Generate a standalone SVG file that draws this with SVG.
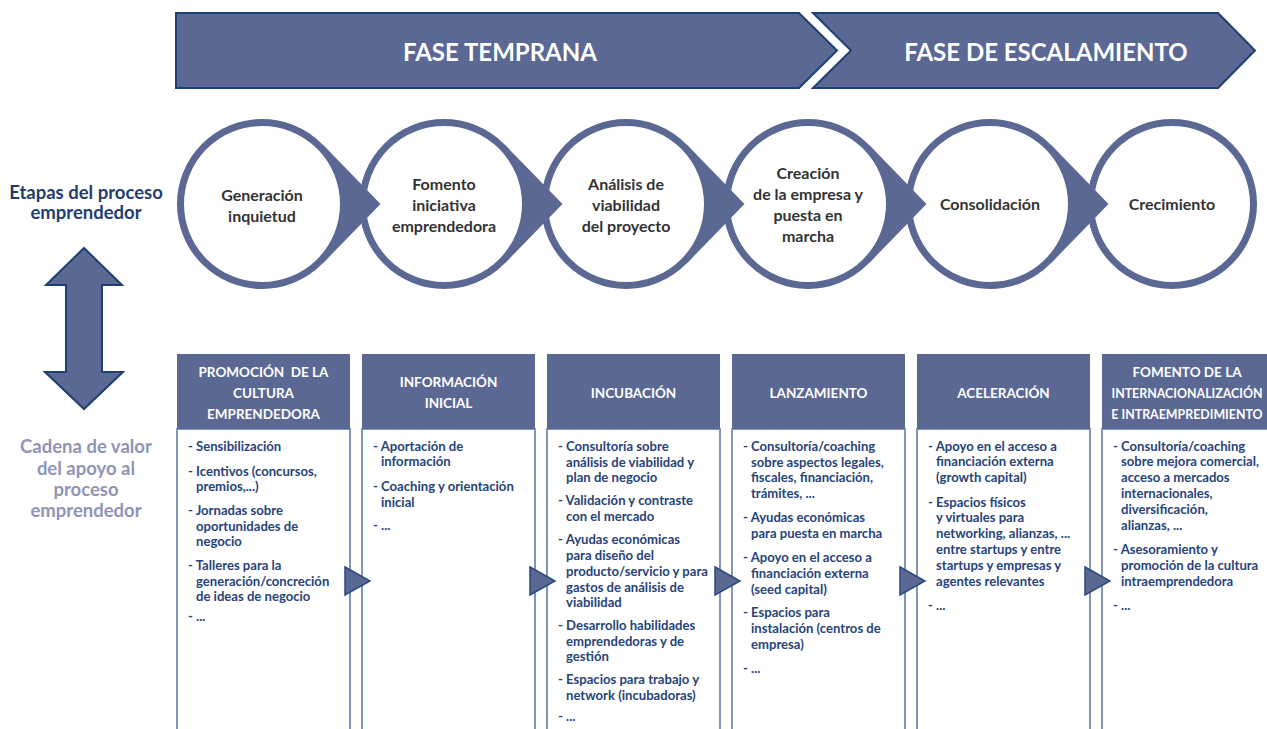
<svg xmlns="http://www.w3.org/2000/svg" width="1267" height="729" viewBox="0 0 1267 729">
<style>
text{font-family:Lato,"Liberation Sans",sans-serif;font-weight:bold}
.ban{fill:#5b6893;stroke:#1f3f73;stroke-width:2}
.bant{fill:#fff;font-size:24px;text-anchor:middle}
.ring{fill:#fff;stroke:#5b6893;stroke-width:7}
.ct{fill:#333;font-size:16px;text-anchor:middle}
.tip{fill:#5b6893}
.hdr{fill:#5b6893}
.ht{fill:#fff;font-size:13.5px;text-anchor:middle}
.hts{font-size:12.4px}
.body{fill:#fff;stroke:#8495ba;stroke-width:2}
.bt{fill:#27437a;font-size:13.1px}
.tri{fill:#5b6893;stroke:#2b4a7c;stroke-width:1.5;stroke-linejoin:miter}
.lab1{fill:#1f3d72;font-size:18.5px;text-anchor:middle}
.lab2{fill:#8f94b6;font-size:18.5px;text-anchor:middle}
.dbl{fill:#5b6893;stroke:#1f3f73;stroke-width:2}
</style>

<g id="phase-temprana">
<path class="ban" d="M176,13 L799,13 L837,50.5 L799,88 L176,88 Z"/>
<text class="bant" x="500" y="61">FASE TEMPRANA</text>
</g>
<g id="phase-escalamiento">
<path class="ban" d="M813,13 L1218,13 L1255,50.5 L1218,88 L813,88 L851,50.5 Z"/>
<text class="bant" x="1046" y="61">FASE DE ESCALAMIENTO</text>
</g>

<g id="label-etapas">
<text class="lab1" x="86" y="199">Etapas del proceso</text>
<text class="lab1" x="86" y="219">emprendedor</text>
</g>
<g id="label-cadena">
<text class="lab2" x="86" y="453">Cadena de valor</text>
<text class="lab2" x="86" y="475">del apoyo al</text>
<text class="lab2" x="86" y="496">proceso</text>
<text class="lab2" x="86" y="517">emprendedor</text>
</g>

<g id="stage-1">
<circle class="ring" cx="262" cy="204" r="81.5"/>
<text class="ct" x="262" y="201">Generación</text>
<text class="ct" x="262" y="222">inquietud</text>
</g>
<g id="stage-2">
<circle class="ring" cx="444" cy="204" r="81.5"/>
<text class="ct" x="444" y="190">Fomento</text>
<text class="ct" x="444" y="211">iniciativa</text>
<text class="ct" x="444" y="232">emprendedora</text>
</g>
<g id="stage-3">
<circle class="ring" cx="626" cy="204" r="81.5"/>
<text class="ct" x="626" y="190">Análisis de</text>
<text class="ct" x="626" y="211">viabilidad</text>
<text class="ct" x="626" y="232">del proyecto</text>
</g>
<g id="stage-4">
<circle class="ring" cx="808" cy="204" r="81.5"/>
<text class="ct" x="808" y="179">Creación</text>
<text class="ct" x="808" y="200">de la empresa y</text>
<text class="ct" x="808" y="221">puesta en</text>
<text class="ct" x="808" y="242">marcha</text>
</g>
<g id="stage-5">
<circle class="ring" cx="990" cy="204" r="81.5"/>
<text class="ct" x="990" y="210">Consolidación</text>
</g>
<g id="stage-6">
<circle class="ring" cx="1172" cy="204" r="81.5"/>
<text class="ct" x="1172" y="210">Crecimiento</text>
</g>

<g id="col-1">
<rect class="body" x="177" y="429" width="173" height="310"/>
<rect class="hdr" x="177" y="354" width="173" height="75"/>
<text class="ht" x="263.5" y="377" xml:space="preserve" style="white-space:pre">PROMOCIÓN  DE LA</text>
<text class="ht" x="263.5" y="398">CULTURA</text>
<text class="ht" x="263.5" y="419">EMPRENDEDORA</text>
<text class="bt" x="188" y="451">- Sensibilización</text>
<text class="bt" x="188" y="476">- Icentivos (concursos,</text>
<text class="bt" x="196" y="491">premios,...)</text>
<text class="bt" x="188" y="515">- Jornadas sobre</text>
<text class="bt" x="196" y="531">oportunidades de</text>
<text class="bt" x="196" y="546">negocio</text>
<text class="bt" x="188" y="570">- Talleres para la</text>
<text class="bt" x="196" y="586">generación/concreción</text>
<text class="bt" x="196" y="601">de ideas de negocio</text>
<text class="bt" x="188" y="621">- ...</text>
</g>
<g id="col-2">
<rect class="body" x="362" y="429" width="173" height="310"/>
<rect class="hdr" x="362" y="354" width="173" height="75"/>
<text class="ht" x="448.5" y="387">INFORMACIÓN</text>
<text class="ht" x="448.5" y="408">INICIAL</text>
<text class="bt" x="373" y="451">- Aportación de</text>
<text class="bt" x="381" y="466">información</text>
<text class="bt" x="373" y="491">- Coaching y orientación</text>
<text class="bt" x="381" y="507">inicial</text>
<text class="bt" x="373" y="530">- ...</text>
</g>
<g id="col-3">
<rect class="body" x="547" y="429" width="173" height="310"/>
<rect class="hdr" x="547" y="354" width="173" height="75"/>
<text class="ht" x="633.5" y="398">INCUBACIÓN</text>
<text class="bt" x="558" y="451">- Consultoría sobre</text>
<text class="bt" x="566" y="467">análisis de viabilidad y</text>
<text class="bt" x="566" y="482">plan de negocio</text>
<text class="bt" x="558" y="505">- Validación y contraste</text>
<text class="bt" x="566" y="521">con el mercado</text>
<text class="bt" x="558" y="544">- Ayudas económicas</text>
<text class="bt" x="566" y="560">para diseño del</text>
<text class="bt" x="566" y="576">producto/servicio y para</text>
<text class="bt" x="566" y="592">gastos de análisis de</text>
<text class="bt" x="566" y="607">viabilidad</text>
<text class="bt" x="558" y="630">- Desarrollo habilidades</text>
<text class="bt" x="566" y="646">emprendedoras y de</text>
<text class="bt" x="566" y="661">gestión</text>
<text class="bt" x="558" y="684">- Espacios para trabajo y</text>
<text class="bt" x="566" y="700">network (incubadoras)</text>
<text class="bt" x="558" y="721">- ...</text>
</g>
<g id="col-4">
<rect class="body" x="732" y="429" width="173" height="310"/>
<rect class="hdr" x="732" y="354" width="173" height="75"/>
<text class="ht" x="818.5" y="398">LANZAMIENTO</text>
<text class="bt" x="743" y="451">- Consultoría/coaching</text>
<text class="bt" x="751" y="467">sobre aspectos legales,</text>
<text class="bt" x="751" y="482">fiscales, financiación,</text>
<text class="bt" x="751" y="498">trámites, ...</text>
<text class="bt" x="743" y="522">- Ayudas económicas</text>
<text class="bt" x="751" y="538">para puesta en marcha</text>
<text class="bt" x="743" y="562">- Apoyo en el acceso a</text>
<text class="bt" x="751" y="578">financiación externa</text>
<text class="bt" x="751" y="594">(seed capital)</text>
<text class="bt" x="743" y="617">- Espacios para</text>
<text class="bt" x="751" y="633">instalación (centros de</text>
<text class="bt" x="751" y="649">empresa)</text>
<text class="bt" x="743" y="673">- ...</text>
</g>
<g id="col-5">
<rect class="body" x="917" y="429" width="173" height="310"/>
<rect class="hdr" x="917" y="354" width="173" height="75"/>
<text class="ht" x="1003.5" y="398">ACELERACIÓN</text>
<text class="bt" x="928" y="451">- Apoyo en el acceso a</text>
<text class="bt" x="936" y="466">financiación externa</text>
<text class="bt" x="936" y="482">(growth capital)</text>
<text class="bt" x="928" y="507">- Espacios físicos</text>
<text class="bt" x="936" y="522">y virtuales para</text>
<text class="bt" x="936" y="538">networking, alianzas, ...</text>
<text class="bt" x="936" y="554">entre startups y entre</text>
<text class="bt" x="936" y="570">startups y empresas y</text>
<text class="bt" x="936" y="586">agentes relevantes</text>
<text class="bt" x="928" y="610">- ...</text>
</g>
<g id="col-6">
<rect class="body" x="1102" y="429" width="173" height="310"/>
<rect class="hdr" x="1102" y="354" width="173" height="75"/>
<text class="ht" x="1187" y="377">FOMENTO DE LA</text>
<text class="ht hts" x="1187" y="398">INTERNACIONALIZACIÓN</text>
<text class="ht hts" x="1187" y="419">E INTRAEMPREDIMIENTO</text>
<text class="bt" x="1113" y="451">- Consultoría/coaching</text>
<text class="bt" x="1121" y="466">sobre mejora comercial,</text>
<text class="bt" x="1121" y="482">acceso a mercados</text>
<text class="bt" x="1121" y="498">internacionales,</text>
<text class="bt" x="1121" y="514">diversificación,</text>
<text class="bt" x="1121" y="530">alianzas, ...</text>
<text class="bt" x="1113" y="554">- Asesoramiento y</text>
<text class="bt" x="1121" y="570">promoción de la cultura</text>
<text class="bt" x="1121" y="586">intraemprendedora</text>
<text class="bt" x="1113" y="610">- ...</text>
</g>

<g id="connectors">
<path class="tip" d="M323,144.8 L380.5,204 L323,263.2 L319.4,259.7 A80 80 0 0 0 319.4,148.3 Z"/>
<path class="tip" d="M505,144.8 L562.5,204 L505,263.2 L501.4,259.7 A80 80 0 0 0 501.4,148.3 Z"/>
<path class="tip" d="M687,144.8 L744.5,204 L687,263.2 L683.4,259.7 A80 80 0 0 0 683.4,148.3 Z"/>
<path class="tip" d="M869,144.8 L926.5,204 L869,263.2 L865.4,259.7 A80 80 0 0 0 865.4,148.3 Z"/>
<path class="tip" d="M1051,144.8 L1108.5,204 L1051,263.2 L1047.4,259.7 A80 80 0 0 0 1047.4,148.3 Z"/>
<path class="tri" d="M345,567 L370,581 L345,595 Z"/>
<path class="tri" d="M530,567 L555,581 L530,595 Z"/>
<path class="tri" d="M715,567 L740,581 L715,595 Z"/>
<path class="tri" d="M900,567 L925,581 L900,595 Z"/>
<path class="tri" d="M1085,567 L1110,581 L1085,595 Z"/>
<path class="dbl" d="M84,248 L122,285 L102,285 L102,372 L123,372 L84,409 L45,372 L66,372 L66,285 L46,285 Z"/>
</g>
</svg>
